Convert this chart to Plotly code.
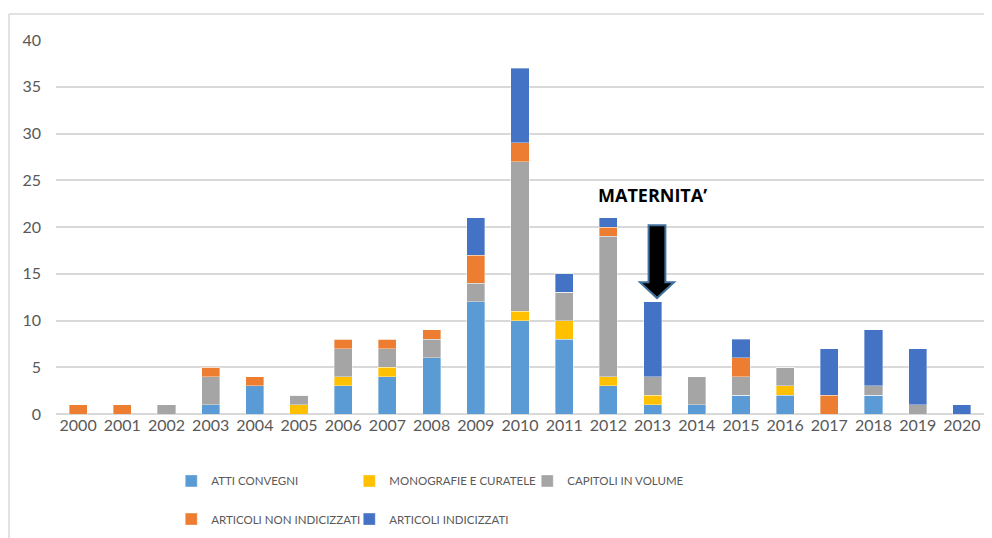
import plotly.graph_objects as go

years = [str(y) for y in range(2000, 2021)]
atti_convegni = [0, 0, 0, 1, 3, 0, 3, 4, 6, 12, 10, 8, 3, 1, 1, 2, 2, 0, 2, 0, 0]
monografie = [0, 0, 0, 0, 0, 1, 1, 1, 0, 0, 1, 2, 1, 1, 0, 0, 1, 0, 0, 0, 0]
capitoli = [0, 0, 1, 3, 0, 1, 3, 2, 2, 2, 16, 3, 15, 2, 3, 2, 2, 0, 1, 1, 0]
articoli_non_ind = [1, 1, 0, 1, 1, 0, 1, 1, 1, 3, 2, 0, 1, 0, 0, 2, 0, 2, 0, 0, 0]
articoli_ind = [0, 0, 0, 0, 0, 0, 0, 0, 0, 4, 8, 2, 1, 8, 0, 2, 0, 5, 6, 6, 1]

series = [
    ("ATTI CONVEGNI", atti_convegni, "#5B9BD5", "legend"),
    ("MONOGRAFIE E CURATELE", monografie, "#FFC000", "legend"),
    ("CAPITOLI IN VOLUME", capitoli, "#A5A5A5", "legend"),
    ("ARTICOLI NON INDICIZZATI", articoli_non_ind, "#ED7D31", "legend2"),
    ("ARTICOLI INDICIZZATI", articoli_ind, "#4472C4", "legend2"),
]

annot_year = "2013"
annot_text = "MATERNITA\u2019"

fig = go.Figure()
for name, vals, color, lg in series:
    fig.add_trace(go.Bar(
        x=years, y=vals, name=name, legend=lg,
        marker=dict(color=color, line=dict(color="rgba(255,255,255,0.45)", width=0.8)),
    ))

font_family = "Lato, 'Open Sans', sans-serif"
legend_common = dict(orientation="h", xanchor="left", yanchor="middle",
                     entrywidth=133, entrywidthmode="pixels", traceorder="normal",
                     font=dict(size=11.5, color="#595959"), bgcolor="rgba(0,0,0,0)")
fig.update_layout(
    barmode="stack",
    bargap=0.59,
    width=984, height=530,
    margin=dict(l=48, r=8, t=32, b=124, autoexpand=False),
    paper_bgcolor="white", plot_bgcolor="white",
    font=dict(family=font_family, color="#595959", size=15),
    xaxis=dict(type="category", showgrid=False, showline=False, ticks="", automargin=False,
               tickfont=dict(size=16, color="#595959")),
    yaxis=dict(range=[0, 40], dtick=5, showgrid=True, gridcolor="#D9D9D9", gridwidth=1.5,
               zeroline=True, zerolinecolor="#D9D9D9", zerolinewidth=1.5, automargin=False,
               showline=False, ticks="", ticklabelstandoff=14,
               tickfont=dict(size=16, color="#595959")),
    legend=dict(x=0.1242, y=-0.179, **legend_common),
    legend2=dict(x=0.1242, y=-0.281, **legend_common),
    showlegend=True,
)

# chart border (top and left edges)
fig.add_shape(type="line", xref="paper", yref="paper", x0=-0.0506, x1=1.01, y0=1.0695, y1=1.0695,
              line=dict(color="#D9D9D9", width=1.5))
fig.add_shape(type="line", xref="paper", yref="paper", x0=-0.0506, x1=-0.0506, y0=1.0695, y1=-0.34,
              line=dict(color="#D9D9D9", width=1.5))

# block arrow over the annotated year
ci = years.index(annot_year) + 0.1
hs, hh = 0.19, 0.385
top, base, tip = 20.2, 14.1, 12.4
path = (f"M {ci-hs},{top} L {ci+hs},{top} L {ci+hs},{base} L {ci+hh},{base} "
        f"L {ci},{tip} L {ci-hh},{base} L {ci-hs},{base} Z")
fig.add_shape(type="path", xref="x", yref="y", path=path,
              fillcolor="black", line=dict(color="#41719C", width=2))

fig.add_annotation(x=years.index(annot_year), xref="x", y=23.4, yref="y", text=annot_text,
                   showarrow=False, font=dict(family="'Open Sans', sans-serif", size=18, color="black", weight="bold"))

fig.write_html("out.html")
